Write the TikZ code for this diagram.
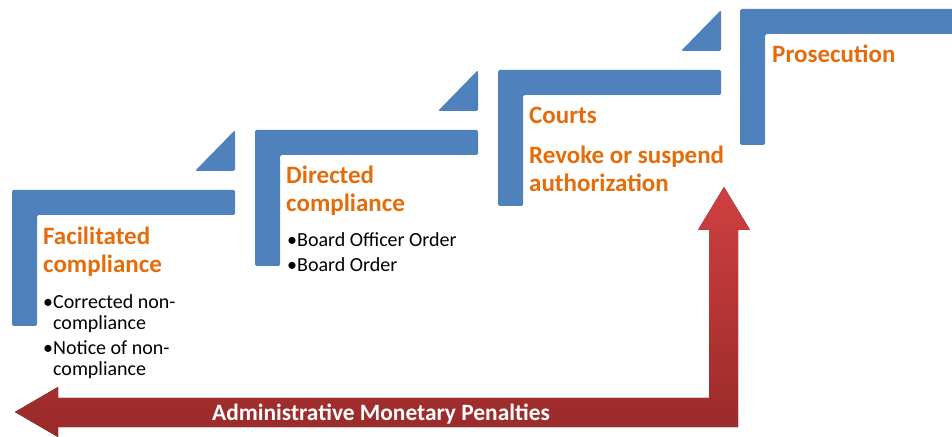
\documentclass[tikz,border=0pt]{standalone}
\usepackage{fontspec}
\setmainfont{Carlito}
\usetikzlibrary{positioning}
\definecolor{stepblue}{HTML}{4F81BD}
\definecolor{headorange}{HTML}{E46C0A}
\definecolor{redtop}{HTML}{CF4040}
\definecolor{redbot}{HTML}{992A2A}
\tikzset{
  stepbar/.style={fill=stepblue, rounded corners=1.5bp},
  head/.style={text=headorange, font=\fontsize{25bp}{28bp}\selectfont\bfseries, align=left, inner sep=0pt, anchor=base west},
  bul/.style={text=black, font=\fontsize{20bp}{21bp}\selectfont, align=left, inner sep=0pt, anchor=base west},
  amp/.style={text=white, font=\fontsize{23.4bp}{25bp}\selectfont\bfseries, inner sep=0pt, anchor=base},
  penarrow/.style={top color=redtop, bottom color=redbot, draw=none},
}
\begin{document}
\begin{tikzpicture}[x=1bp, y=-1bp]
  \useasboundingbox (0,0) rectangle (952,437);
  % the four steps: left, top, bar length
  \foreach \l/\t/\w in {12/190/223, 255/130/223, 498/70/223, 740/9/220}{
    \fill[stepbar] (\l,\t) -- ++(\w,0) -- ++(0,25) -- (\l+25,\t+25)
      -- (\l+25,\t+136) -- (\l,\t+136) -- cycle;
  }
  % little wedges above the bars
  \foreach \r/\t in {235/190, 478/130, 721/70}{
    \fill[stepbar] (\r,\t-19) -- (\r,\t-60) -- (\r-40,\t-19) -- cycle;
  }
  % penalties arrow
  \fill[penarrow] (724,187) -- (750,230) -- (738,230) -- (738,427) -- (58,427)
    -- (58,437) -- (15,412) -- (58,387) -- (58,398) -- (709,398) -- (709,230)
    -- (698,230) -- cycle;
  \node[amp] (pen) at (381,420) {Administrative Monetary Penalties};
  % step texts (anchored on the last line)
  \node[head] (fac) at (43,273) {Facilitated\\compliance};
  \node[bul] (facl) at (43,376) {•Corrected non-\\\hphantom{•}compliance\\[4bp]•Notice of non-\\\hphantom{•}compliance};
  \node[head] (dir) at (286,212) {Directed\\compliance};
  \node[bul] (dirl) at (287,272) {•Board Officer Order\\[4bp]•Board Order};
  \node[head] (crt) at (529,124) {Courts};
  \node[head] (rev) at (529,192) {Revoke or suspend\\authorization};
  \node[head] (pros) at (772,63) {Prosecution};
\end{tikzpicture}
\end{document}
